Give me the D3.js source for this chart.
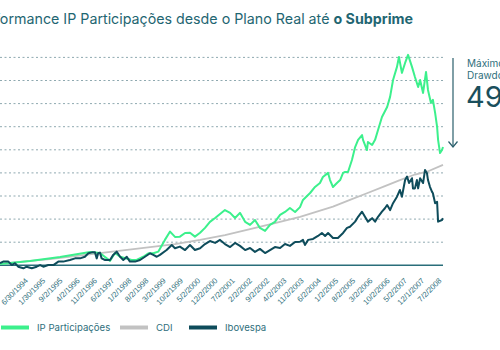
<!DOCTYPE html>
<html>
<head>
<meta charset="utf-8">
<script src="https://cdn.jsdelivr.net/npm/d3@7"></script>
<style>
  html, body { margin: 0; padding: 0; background: #fff; overflow: hidden; }
  svg { display: block; font-family: Inter, "Noto Sans", sans-serif; }
  .tick text { fill: #2f6f7c; font-size: 7.7px; }
</style>
</head>
<body>
<div id="chart"></div>
<script>
/* IP Participações vs CDI vs Ibovespa, Plano Real -> Subprime.
   x = months from start of series, y = cumulative index (grid every 100). */

const X_LABELS = ["6/30/1994","1/30/1995","9/2/1995","4/2/1996","11/2/1996","6/2/1997",
  "1/2/1998","8/2/1998","3/2/1999","10/2/1999","5/2/2000","12/2/2000","7/2/2001",
  "2/2/2002","9/2/2002","4/2/2003","11/2/2003","6/2/2004","1/2/2005","8/2/2005",
  "3/2/2006","10/2/2006","5/2/2007","12/1/2007","7/2/2008"];
// month index of each label (one every 7 months)
const X_TICKS = [9,16,23,30,37,44,51,58,65,72,79,86,93,100,107,114,121,128,135,142,149,156,163,170,177];
const Y_TICKS = [0,100,200,300,400,500,600,700,800,900];

const IP = [[0,6],[12.2,19],[24.4,36],[36.6,58],[40.6,53],[44.7,19],[46.7,53],[48.8,37],[53.5,23],
  [55.5,23],[58.2,37],[60.3,52],[62.3,52],[64.3,59],[67.0,110],[69.1,146],[71.1,123],[73.1,124],
  [75.2,140],[77.2,141],[79.2,124],[81.3,141],[83.3,162],[85.3,188],[87.4,205],[89.4,222],[91.4,239],
  [93.5,227],[95.5,205],[97.5,227],[99.6,188],[101.6,175],[103.6,196],[105.6,162],[107.7,149],
  [109.7,175],[111.7,188],[113.8,218],[115.8,231],[117.8,248],[119.9,231],[121.9,252],[123.1,283],
  [126.0,313],[128.0,339],[130.0,356],[131.2,382],[133.3,400],[134.1,369],[135.3,339],[136.9,356],
  [138.2,369],[139.4,400],[140.2,404],[141.4,404],[143.0,456],[144.3,512],[145.5,543],[147.1,564],
  [147.5,543],[149.1,499],[149.5,534],[151.2,521],[152.4,543],[153.6,586],[155.2,642],[157.3,685],
  [158.5,729],[159.7,802],[161.3,859],[162.1,902],[163.3,833],[164.6,876],[165.8,911],[167.4,859],
  [168.6,815],[169.9,772],[170.7,802],[171.9,746],[173.1,837],[173.9,759],[175.1,703],[175.9,716],
  [176.8,660],[177.6,599],[178.0,543],[178.8,486],[179.6,499],[180,512]];

const CDI = [[0,6],[10.2,17],[20.3,27],[30.5,40],[40.6,53],[50.8,66],[61.0,79],[71.1,92],[81.3,110],
  [91.4,131],[101.6,157],[111.7,183],[121.9,210],[135.3,254],[142.2,283],[149.1,312],[156.4,343],
  [162.5,369],[168.6,393],[173.5,405],[180,435]];

const IBOV = [[0,9],[1.3,16],[3.4,16],[4.8,1],[6.1,9],[7.4,-6],[9.5,-13],[10.8,-6],[12.9,-13],[14.9,-6],
  [16.3,1],[17.6,-6],[19.6,1],[21.7,1],[23.7,16],[25.7,16],[28.4,23],[30.5,30],[32.5,30],[34.5,37],
  [35.9,52],[37.3,56],[38.6,56],[39.3,30],[39.9,52],[40.6,55],[41.3,30],[42.7,23],[44.7,23],[46.0,45],
  [47.4,59],[48.8,37],[50.1,23],[51.5,37],[52.8,16],[54.9,16],[56.9,23],[58.9,37],[61.0,52],[62.3,45],
  [63.7,37],[65.0,45],[67.7,66],[69.8,88],[71.1,74],[73.1,81],[75.2,66],[77.2,88],[79.2,66],[81.3,74],
  [83.3,92],[85.3,105],[87.4,97],[89.4,110],[91.4,92],[93.5,79],[95.5,97],[97.5,84],[99.6,66],
  [101.6,75],[103.6,58],[105.6,71],[107.7,53],[109.7,66],[111.7,79],[113.8,75],[115.8,92],[117.8,84],
  [119.9,101],[121.9,102],[123.1,110],[123.9,88],[125.2,110],[127.2,114],[129.2,127],[130.8,140],
  [132.1,127],[133.3,140],[135.3,118],[137.3,118],[139.4,140],[141.0,162],[142.2,167],[144.3,189],
  [145.5,210],[147.1,232],[148.3,210],[149.5,189],[151.2,204],[152.4,189],[153.6,210],[155.2,232],
  [156.4,247],[157.3,261],[158.5,239],[159.7,269],[161.3,297],[162.5,326],[163.3,297],[164.6,369],
  [165.4,384],[166.2,356],[167.4,377],[167.8,333],[168.6,333],[169.4,369],[169.9,333],[170.7,377],
  [171.9,356],[172.7,413],[173.5,398],[173.9,369],[174.7,340],[175.5,319],[175.9,312],[176.8,269],
  [177.6,275],[178.0,189],[179.6,196],[180,204]];

const SERIES = [
  { name: "IP Participações", data: IP,   color: "#3cf08c", width: 2 },
  { name: "CDI",              data: CDI,  color: "#c2c2c2", width: 1.8 },
  { name: "Ibovespa",         data: IBOV, color: "#0e4c5b", width: 2 }
];
const DRAW_ORDER = ["CDI", "IP Participações", "Ibovespa"];

const W = 500, H = 350;
const PLOT = { left: 0, right: 443, top: 57.4, bottom: 265.3 };

const svg = d3.select("#chart").append("svg").attr("width", W).attr("height", H);

const x = d3.scaleLinear().domain([0, 180]).range([PLOT.left, PLOT.right]);
const y = d3.scaleLinear().domain([0, 900]).range([PLOT.bottom, PLOT.top]);

// title: the source is cropped, "Perf" runs off the left edge
const title = svg.append("text").attr("x", 413).attr("y", 24)
    .attr("text-anchor", "end").attr("fill", "#1f6672").style("font-size", "13px");
title.append("tspan").text("Performance IP Participações desde o Plano Real até ");
title.append("tspan").attr("font-weight", 700).text("o Subprime");
{
  const probe = svg.append("text").style("font-size", "13px").text("Perf");
  const cut = probe.node().getComputedTextLength();
  probe.remove();
  const full = title.node().getComputedTextLength();
  title.style("font-size", (13 * 413 / (full - cut)).toFixed(2) + "px");
}

// dotted gridlines
svg.append("g").attr("class", "grid")
  .selectAll("line").data(Y_TICKS.filter(v => v > 0)).join("line")
    .attr("x1", PLOT.left).attr("x2", PLOT.right)
    .attr("y1", d => y(d)).attr("y2", d => y(d))
    .attr("stroke", "#8fa9b0").attr("stroke-width", 1).attr("stroke-dasharray", "2,2.5");

// x axis labels, rotated
const xAxis = svg.append("g").attr("transform", `translate(0,${PLOT.bottom})`)
  .call(d3.axisBottom(x).tickValues(X_TICKS).tickSize(0).tickFormat((d, i) => X_LABELS[i]));
xAxis.select(".domain").remove();
xAxis.selectAll("text")
  .attr("x", 0).attr("y", 0).attr("dy", "0.35em")
  .attr("text-anchor", "end")
  .attr("transform", "translate(4,14) rotate(-45)");

// solid baseline
svg.append("line").attr("x1", PLOT.left).attr("x2", PLOT.right)
  .attr("y1", y(0)).attr("y2", y(0)).attr("stroke", "#2a6e7a").attr("stroke-width", 1.5);

const line = d3.line().x(d => x(d[0])).y(d => y(d[1]));
DRAW_ORDER.forEach(name => {
  const s = SERIES.find(d => d.name === name);
  svg.append("path").datum(s.data)
    .attr("fill", "none").attr("stroke", s.color).attr("stroke-width", s.width)
    .attr("stroke-linejoin", "round").attr("d", line);
});

// drawdown annotation
const ann = svg.append("g").attr("stroke", "#2a5f6c").attr("stroke-width", 1.2).attr("fill", "none");
ann.append("line").attr("x1", 453).attr("x2", 453).attr("y1", 58).attr("y2", 147);
ann.append("path").attr("d", "M448.5,141.5 L453,147 L457.5,141.5");
svg.append("text").attr("x", 467).attr("y", 66.5).attr("fill", "#2f6f7c")
  .style("font-size", "10px").text("Máximo");
svg.append("text").attr("x", 467).attr("y", 78.5).attr("fill", "#2f6f7c")
  .style("font-size", "10px").text("Drawdown");
svg.append("text").attr("x", 466).attr("y", 107).attr("fill", "#1a4f5c")
  .style("font-size", "29px").text("49%");

// legend
const legend = svg.append("g").attr("transform", "translate(1,327.5)");
const LEGEND_X = [0, 119, 188];
SERIES.forEach((s, i) => {
  const g = legend.append("g").attr("transform", `translate(${LEGEND_X[i]},0)`);
  g.append("line").attr("x1", 0).attr("x2", 28).attr("stroke", s.color).attr("stroke-width", 4);
  g.append("text").attr("x", 36).attr("dy", "0.35em").attr("fill", "#2f6f7c")
    .style("font-size", "9.6px").text(s.name);
});
</script>
</body>
</html>
